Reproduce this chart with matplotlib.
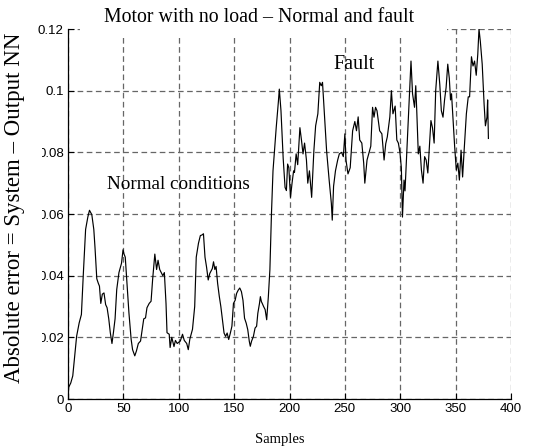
import matplotlib
matplotlib.use("Agg")
import matplotlib.pyplot as plt
from matplotlib.patches import Rectangle

# Absolute error (sample position, error value)
samples = [0, 0.6, 2.5, 4.3, 5.8, 7.8, 10.1, 12.1, 13.9, 15.9, 17.9, 19.4, 20.4, 21.5,
           23.3, 24.4, 26, 27.3, 28.4, 29.6, 31, 32.5, 34, 35.3, 36.8, 38.2, 39.7, 41,
           42.5, 44, 46, 48.3, 49.7, 50.6, 51.7, 53, 55, 57, 58.3, 60.3, 61.8, 63.5,
           65.5, 67, 68.4, 70, 71.3, 73.3, 75, 76.4, 78.4, 80, 81.3, 82.8, 84.2, 85.6,
           87, 88.5, 89.4, 91.4, 92.2, 93.7, 95.7, 97, 98.6, 101.4, 103.4, 105, 107.2,
           108.6, 110, 112.4, 114.4, 115.8, 117.8, 119.5, 121,
           122.3, 123.7, 125.1, 126.6, 128, 130.3, 131.4, 132.6, 133.7, 135.1, 136.6,
           138, 139.4, 140.9, 142.3, 143.7, 145.1, 146.6, 148, 149.4, 150.9, 152.3,
           153.7, 155.1, 156.6, 158, 159.4, 160.9, 162.3, 163.7, 164.6, 165.7, 167.4,
           168.9, 170.3, 171.4, 172.9, 173.7, 174.6, 175.4, 176.6, 178, 179.4, 180.9,
           182.3, 183.7, 185.1, 186.6, 188, 190, 190.8,
           192.3, 194.3, 196, 197.2, 198.3, 199.4, 200.9, 202.3, 203.7, 204.5, 206,
           207.4, 209.4, 210.8, 212.2, 213.6, 215.3, 216.5, 218, 220, 222, 223.6,
           225.6, 227.3, 228.7, 229.8, 231.3, 233.5, 235.8, 237.8, 238.6, 239.8,
           241.5, 243.5, 245, 247, 248.6, 250, 251, 252.8, 254.8, 257, 259, 260.5,
           262, 263.4, 265.3, 267, 268, 270,
           273.4, 275, 276.3, 277.7, 279, 281.4, 283.4, 285.4, 286.9, 288.3, 290.6,
           292, 293.4, 295.4, 296.9, 298.3, 299.7, 301, 302, 303.4, 304.3, 306.3,
           308.3, 309.7, 311.1, 312.9, 314, 314.9, 316.3, 317.7, 319.1, 320.6, 322,
           323.4, 324.9, 326.3, 327.7, 329.1, 330.6, 332, 334, 335.7, 337.1, 338.6,
           340, 341.4, 342.9, 344.3, 345.4, 346.3, 347.7, 349.1, 350.6, 352, 353.4,
           354.9, 356.3, 357.7, 359.7, 361.4, 362.6, 364.3, 365.7, 367.1, 368.6, 370,
           371.1, 372.3, 374, 375.7, 376.9, 378.3, 378.9, 379.6]
abs_error = [0.0, 0.0038, 0.0052, 0.0075, 0.0129, 0.0204, 0.0247, 0.0274, 0.041, 0.055,
             0.059, 0.0612, 0.0605, 0.0598,
             0.055, 0.049, 0.039, 0.0376, 0.0366, 0.031, 0.034, 0.0344, 0.0306, 0.0296,
             0.026, 0.0215, 0.018, 0.0215, 0.026, 0.0355, 0.041, 0.044, 0.0484, 0.047,
             0.046, 0.0387, 0.028, 0.0194, 0.016, 0.014, 0.0156, 0.018, 0.0188, 0.0226,
             0.026, 0.0263, 0.0296, 0.031, 0.0317, 0.0387, 0.047, 0.042, 0.045, 0.042,
             0.041, 0.040, 0.041, 0.031, 0.0215, 0.021, 0.0167, 0.020, 0.017, 0.019,
             0.018, 0.0188, 0.021, 0.019, 0.018, 0.016, 0.0194, 0.0226, 0.030, 0.046,
             0.0505, 0.053, 0.0532,
             0.0536, 0.046, 0.0428, 0.0386, 0.0407, 0.0423, 0.0445, 0.042, 0.043,
             0.0375, 0.0333, 0.030, 0.0257, 0.0214, 0.0203, 0.0214, 0.0193, 0.0214,
             0.0236, 0.031, 0.032, 0.0343, 0.0353, 0.036, 0.0348, 0.032, 0.0262, 0.0246,
             0.0225, 0.0187, 0.0171, 0.0187, 0.0203, 0.023, 0.0236, 0.0278, 0.031,
             0.0332, 0.0316, 0.031, 0.030, 0.029, 0.0257, 0.0332, 0.042, 0.060, 0.074,
             0.0814, 0.088, 0.0966, 0.1005,
             0.0935, 0.078, 0.0686, 0.0676, 0.0762, 0.075, 0.0654, 0.070, 0.074, 0.0735,
             0.0795, 0.076, 0.088, 0.084, 0.0795, 0.083, 0.0775, 0.070, 0.074, 0.0654,
             0.0805, 0.0886, 0.0925, 0.1027, 0.1016, 0.1027, 0.0935, 0.0805, 0.071,
             0.0634, 0.058, 0.069, 0.074, 0.0775, 0.0795, 0.080, 0.0786, 0.086, 0.0775,
             0.073, 0.075, 0.087, 0.090, 0.087, 0.0915, 0.084, 0.083, 0.0765, 0.070,
             0.0775,
             0.082, 0.0946, 0.0914, 0.0946, 0.0935, 0.087, 0.086, 0.0775, 0.0828, 0.085,
             0.0915, 0.100, 0.0925, 0.095, 0.084, 0.083, 0.080, 0.075, 0.059, 0.071,
             0.0675, 0.083, 0.098, 0.1096, 0.099, 0.0946, 0.1016, 0.0935, 0.0795, 0.082,
             0.0743, 0.070, 0.0786, 0.0775, 0.0733, 0.082, 0.0903, 0.088, 0.083, 0.100,
             0.1096, 0.102, 0.0935, 0.0914, 0.097, 0.101, 0.1086, 0.104, 0.097, 0.099,
             0.0903, 0.082, 0.0743, 0.0765, 0.071, 0.0807, 0.072, 0.0807, 0.0925, 0.098,
             0.098, 0.111, 0.108, 0.1096, 0.105, 0.1118, 0.120, 0.116, 0.1086, 0.0957,
             0.0886, 0.0914, 0.097, 0.0845]

xticks = [0, 50, 100, 150, 200, 250, 300, 350, 400]
yticks = [0, 0.02, 0.04, 0.06, 0.08, 0.1, 0.12]
ytick_labels = ['0', '0.02', '0.04', '0.06', '0.08', '0.1', '0.12']

W, H = 555, 448
fig = plt.figure(figsize=(W / 100, H / 100), dpi=100)
ax = fig.add_axes([68 / W, 1 - 399 / H, (511 - 68) / W, (399 - 29) / H])

ax.plot(samples, abs_error, color='black', lw=0.85, zorder=3)

ax.set_xlim(0, 400)
ax.set_ylim(0, 0.12)
ax.set_xticks(xticks)
ax.set_xticklabels([str(t) for t in xticks])
ax.set_yticks(yticks)
ax.set_yticklabels(ytick_labels)
ax.tick_params(direction='in', length=4, width=0.8, labelsize=9.5, pad=3)
for lab in ax.get_xticklabels() + ax.get_yticklabels():
    lab.set_fontfamily('Liberation Sans')

ax.grid(True, color='#666666', lw=0.9, linestyle=(0, (4.5, 2.8)))
for side in ['top', 'right']:
    ax.spines[side].set_visible(False)
for side in ['left', 'bottom']:
    ax.spines[side].set_linewidth(0.9)

serif = 'Liberation Serif'
ax.text(100, 0.0695, 'Normal conditions', ha='center', va='center',
        fontsize=13.8, family=serif)
ax.text(258.5, 0.1086, 'Fault', ha='center', va='center', fontsize=14.5, family=serif)

# white patches over the top grid behind the title and over the y tick labels
fig.add_artist(Rectangle((80 / W, 1 - 38 / H), (447 - 80) / W, 38 / H,
                         transform=fig.transFigure, facecolor='white',
                         edgecolor='none', zorder=1))
fig.add_artist(Rectangle((0, 1 - 390 / H), 42 / W, (390 - 100) / H,
                         transform=fig.transFigure, facecolor='white',
                         edgecolor='none', zorder=1))

fig.text(259 / W, 1 - 17 / H, 'Motor with no load \u2013 Normal and fault',
         ha='center', va='center', fontsize=14.3, family=serif)
fig.text(15 / W, 1 - 208 / H, 'Absolute error = System \u2013 Output NN',
         ha='center', va='center', rotation=90, fontsize=16.5, family=serif)
fig.text(280 / W, 1 - 439 / H, 'Samples', ha='center', va='center',
         fontsize=10.5, family=serif)

fig.savefig('out.png', dpi=100, facecolor='white')
